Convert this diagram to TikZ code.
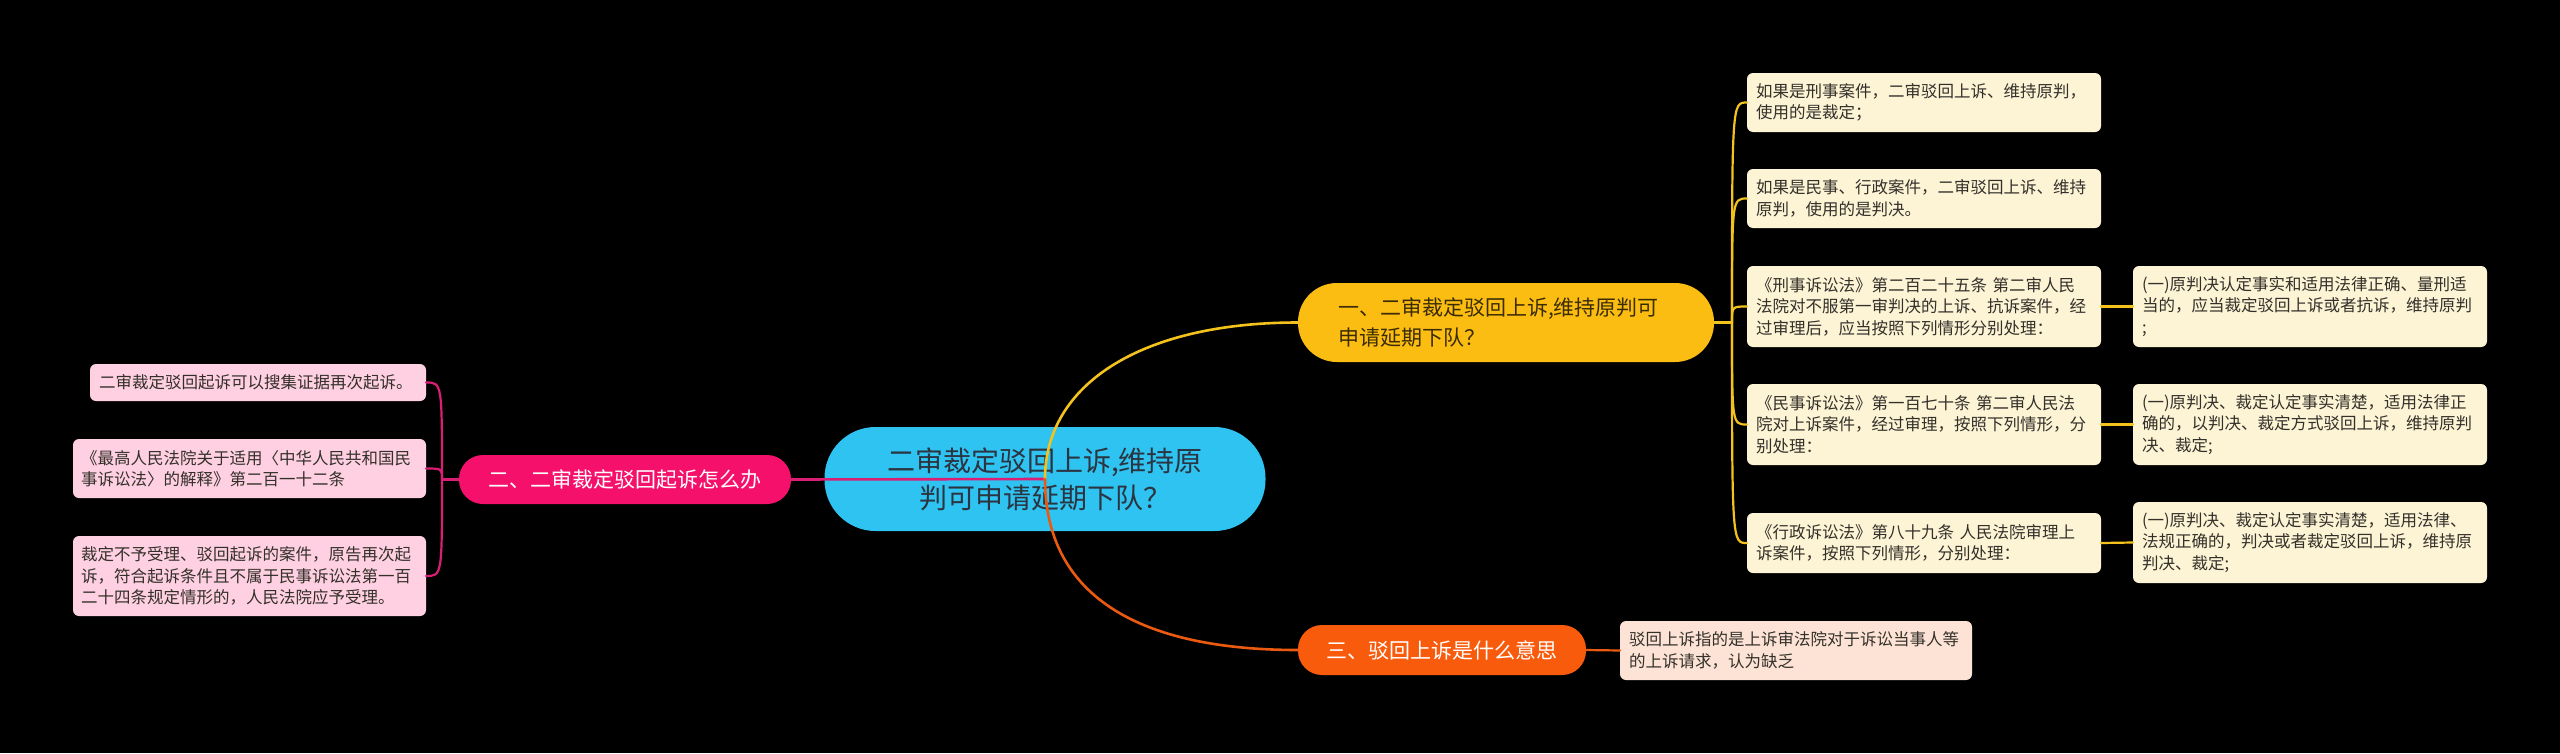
\documentclass[tikz,border=0pt]{standalone}
\usepackage{fontspec}
\setmainfont{Noto Sans CJK SC}
\definecolor{cfill}{HTML}{2EC3F1}
\definecolor{ctext}{HTML}{2B3440}
\definecolor{yfill}{HTML}{FCBD12}
\definecolor{ytext}{HTML}{3A2C05}
\definecolor{pfill}{HTML}{F5116B}
\definecolor{ofill}{HTML}{F95B0D}
\definecolor{yleaf}{HTML}{FDF3D5}
\definecolor{pleaf}{HTML}{FFD0E2}
\definecolor{oleaf}{HTML}{FDE3D6}
\definecolor{leaftext}{HTML}{33302A}
\definecolor{yline}{HTML}{F4C21C}
\definecolor{pline}{HTML}{D91E74}
\definecolor{oline}{HTML}{EA5A10}
\begin{document}
\begin{tikzpicture}[x=1pt,y=-1pt,
  box/.style={inner sep=0pt, outer sep=0pt},
  leaf/.style={box, rounded corners=6pt, align=left, text=leaftext,
    font=\fontsize{16.5}{21.5}\selectfont},
  yleafbox/.style={leaf, fill=yleaf, minimum width=354pt, text width=336pt},
  pleafbox/.style={leaf, fill=pleaf},
  branch/.style={box, font=\fontsize{21}{30}\selectfont},
  conn/.style={line width=2.6pt, line cap=round},
  thin/.style={line width=2.2pt, line cap=round}
]
\fill[black] (0,0) rectangle (2560,753);

% center
\node[box, fill=cfill, rounded corners=51pt, minimum width=441pt, minimum height=104pt,
  align=center, text=ctext, font=\fontsize{28}{37}\selectfont]
  (C) at (1045,479) {二审裁定驳回上诉,维持原\\判可申请延期下队？};

% branches
\node[branch, fill=yfill, rounded corners=39pt, minimum width=416pt, minimum height=79pt,
  text width=336pt, align=left, text=ytext]
  (B1) at (1506,322.5) {一、二审裁定驳回上诉,维持原判可\\申请延期下队？};
\node[branch, fill=pfill, rounded corners=24pt, minimum width=332pt, minimum height=49pt,
  align=center, text=white]
  (B2) at (625,479.5) {二、二审裁定驳回起诉怎么办};
\node[branch, fill=ofill, rounded corners=24pt, minimum width=288pt, minimum height=50pt,
  align=center, text=white]
  (B3) at (1442,650) {三、驳回上诉是什么意思};

% yellow leaves
\node[yleafbox, minimum height=59pt] (Y1) at (1924,102.5) {如果是刑事案件，二审驳回上诉、维持原判，\\使用的是裁定；};
\node[yleafbox, minimum height=59pt] (Y2) at (1924,198.5) {如果是民事、行政案件，二审驳回上诉、维持\\原判，使用的是判决。};
\node[yleafbox, minimum height=81pt] (Y3) at (1924,306.5) {《刑事诉讼法》第二百二十五条 第二审人民\\法院对不服第一审判决的上诉、抗诉案件，经\\过审理后，应当按照下列情形分别处理：};
\node[yleafbox, minimum height=81pt] (Y4) at (1924,424.5) {《民事诉讼法》第一百七十条 第二审人民法\\院对上诉案件，经过审理，按照下列情形，分\\别处理：};
\node[yleafbox, minimum height=60pt] (Y5) at (1924,543) {《行政诉讼法》第八十九条 人民法院审理上\\诉案件，按照下列情形，分别处理：};

\node[yleafbox, minimum height=81pt] (Y3a) at (2310,306.5) {(一)原判决认定事实和适用法律正确、量刑适\\当的，应当裁定驳回上诉或者抗诉，维持原判\\;};
\node[yleafbox, minimum height=81pt] (Y4a) at (2310,424.5) {(一)原判决、裁定认定事实清楚，适用法律正\\确的，以判决、裁定方式驳回上诉，维持原判\\决、裁定;};
\node[yleafbox, minimum height=81pt] (Y5a) at (2310,542.5) {(一)原判决、裁定认定事实清楚，适用法律、\\法规正确的，判决或者裁定驳回上诉，维持原\\判决、裁定;};

% orange leaf
\node[leaf, fill=oleaf, minimum width=352pt, text width=334pt, minimum height=59pt]
  (O1) at (1796,650.5) {驳回上诉指的是上诉审法院对于诉讼当事人等\\的上诉请求，认为缺乏};

% pink leaves
\node[pleafbox, minimum width=336pt, text width=318pt, minimum height=37pt]
  (L1) at (258,382.5) {二审裁定驳回起诉可以搜集证据再次起诉。};
\node[pleafbox, minimum width=353pt, text width=337pt, minimum height=59pt]
  (L2) at (249.5,468.5) {《最高人民法院关于适用〈中华人民共和国民\\事诉讼法〉的解释》第二百一十二条};
\node[pleafbox, minimum width=353pt, text width=337pt, minimum height=80pt]
  (L3) at (249.5,576) {裁定不予受理、驳回起诉的案件，原告再次起\\诉，符合起诉条件且不属于民事诉讼法第一百\\二十四条规定情形的，人民法院应予受理。};

% junctions
\coordinate (J1) at (1732,322.5);
\coordinate (J2) at (442,479.5);

% main connectors
\draw[conn, pline] (C.center) -- (B2.east);
\draw[conn, yline] (C.center) .. controls (1045,385) and (1140,322.5) .. (B1.west);
\draw[conn, oline] (C.center) .. controls (1045,590) and (1130,650) .. (B3.west);

% branch 1 fan
\draw[thin, yline] (B1.east) -- (J1);
\foreach \n in {Y1,Y2,Y3,Y4,Y5}
  \draw[thin, yline] (J1) .. controls (J1 |- \n.west) .. (\n.west);
\draw[thin, yline] (Y3.east) -- (Y3a.west);
\draw[thin, yline] (Y4.east) -- (Y4a.west);
\draw[thin, yline] (Y5.east) -- (Y5a.west);

% branch 3
\draw[thin, oline] (B3.east) -- (O1.west);

% branch 2 fan
\draw[thin, pline] (B2.west) -- (J2);
\foreach \n in {L1,L2,L3}
  \draw[thin, pline] (J2) .. controls (J2 |- \n.east) .. (\n.east);
\end{tikzpicture}
\end{document}
